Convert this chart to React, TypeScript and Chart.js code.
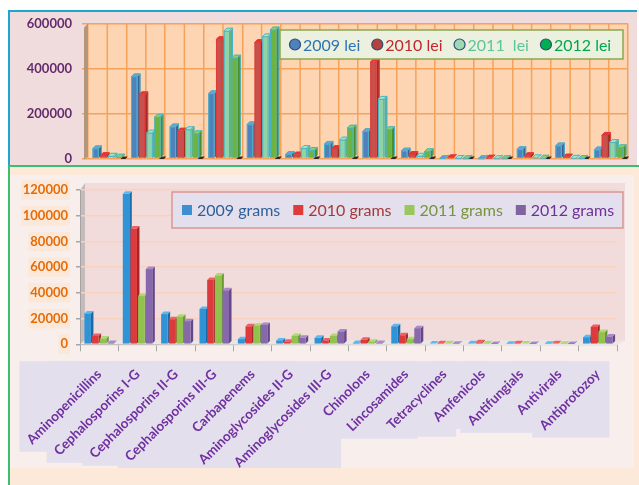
import React, { useEffect, useRef } from 'react';
import { Chart, registerables } from 'chart.js';

Chart.register(...registerables);
Chart.defaults.font.family = 'Lato, "Open Sans", sans-serif';

// ---------- data ----------
const categories = [
  'Aminopenicillins',
  'Cephalosporins I-G',
  'Cephalosporins II-G',
  'Cephalosporins III-G',
  'Carbapenems',
  'Aminoglycosides II-G',
  'Aminoglycosides III-G',
  'Chinolons',
  'Lincosamides',
  'Tetracyclines',
  'Amfenicols',
  'Antifungials',
  'Antivirals',
  'Antiprotozoy',
];

const leiSeriesNames = ['2009 lei', '2010 lei', '2011  lei', '2012 lei'];
const lei2009 = [45000, 365000, 142000, 290000, 152000, 20000, 65000, 122000, 35000, 2000, 1000, 42000, 58000, 40000];
const lei2010 = [15000, 285000, 123000, 530000, 517000, 17000, 46000, 430000, 20000, 5000, 3000, 14000, 8000, 105000];
const lei2011 = [12000, 115000, 130000, 568000, 543000, 46000, 84000, 265000, 12000, 2000, 1000, 5000, 3000, 73000];
const lei2012 = [8000, 185000, 112000, 448000, 573000, 38000, 137000, 130000, 32000, 1000, 1000, 3000, 2000, 50000];
const leiTicks = [0, 200000, 400000, 600000];

const gramSeriesNames = ['2009 grams', '2010 grams', '2011 grams', '2012 grams'];
const grams2009 = [24000, 117000, 23500, 27500, 4000, 3000, 5000, 1000, 14000, 600, 800, 500, 500, 5500];
const grams2010 = [6500, 90000, 19500, 50000, 14000, 2000, 3000, 3500, 7000, 900, 1500, 900, 800, 13500];
const grams2011 = [4500, 37500, 21500, 53500, 14500, 6500, 6500, 2000, 4000, 800, 900, 600, 500, 9500];
const grams2012 = [1000, 58500, 18000, 42000, 15000, 5000, 10000, 1000, 12500, 400, 300, 300, 200, 6000];
const gramTicks = [0, 20000, 40000, 60000, 80000, 100000, 120000];

// ---------- styles ----------
const topPalette = [
  { front: '#4f81bd', side: '#3a6394', top: '#6f9fd6', edge: '#4bb3c9', legend: '#2e74b5', marker: '#4f81bd' },
  { front: '#c9514d', side: '#9b2f2c', top: '#e8332f', edge: '#e03b3b', legend: '#c0282e', marker: '#b8403d' },
  { front: '#8fd3a6', side: '#5eb083', top: '#a9e6c0', edge: '#4bb3c9', legend: '#5fc498', marker: '#9ed9b3' },
  { front: '#6cb33f', side: '#4c8c2a', top: '#8fd063', edge: '#4bb3c9', legend: '#00a84f', marker: '#00b050' },
];
const botPalette = [
  { front: '#2f93d6', side: '#1d69a6', top: '#5cb8ee', edge: '', legend: '#2f5f98', marker: '#3d8fd0' },
  { front: '#dc3a3c', side: '#a52628', top: '#f05f5f', edge: '', legend: '#a23a3a', marker: '#de3b3b' },
  { front: '#91c24d', side: '#6b9733', top: '#afd874', edge: '', legend: '#77933c', marker: '#9bc75a' },
  { front: '#8868ac', side: '#634787', top: '#a68bc8', edge: '', legend: '#6f3098', marker: '#8064a2' },
];

// ---------- plugins ----------
const bars3d = {
  id: 'bars3d',
  afterDatasetsDraw(chart: any, _a: any, opts: any) {
    const ctx = chart.ctx;
    const d = opts.depth;
    const pal = opts.palette;
    const n = chart.data.labels.length;
    ctx.save();
    for (let j = 0; j < n; j++) {
      chart.data.datasets.forEach((_ds: any, i: number) => {
        const el = chart.getDatasetMeta(i).data[j];
        if (!el) return;
        const { x, y, base, width } = el.getProps(['x', 'y', 'base', 'width'], true);
        const l = x - width / 2;
        const r = x + width / 2;
        const p = pal[i];
        ctx.fillStyle = p.side;
        ctx.beginPath();
        ctx.moveTo(r, y);
        ctx.lineTo(r + d, y - d);
        ctx.lineTo(r + d, base - d);
        ctx.lineTo(r, base);
        ctx.closePath();
        ctx.fill();
        ctx.fillStyle = p.top;
        ctx.beginPath();
        ctx.moveTo(l, y);
        ctx.lineTo(l + d, y - d);
        ctx.lineTo(r + d, y - d);
        ctx.lineTo(r, y);
        ctx.closePath();
        ctx.fill();
        ctx.fillStyle = p.front;
        ctx.fillRect(l, y, width, base - y);
        if (p.edge) {
          ctx.strokeStyle = p.edge;
          ctx.lineWidth = 1;
          ctx.beginPath();
          ctx.moveTo(l + 0.5, base);
          ctx.lineTo(l + 0.5, y);
          ctx.lineTo(l + d, y - d + 0.5);
          ctx.lineTo(r + d - 0.5, y - d + 0.5);
          ctx.lineTo(r + d - 0.5, base - d);
          ctx.moveTo(r - 0.5, base);
          ctx.lineTo(r - 0.5, y);
          ctx.lineTo(r + d - 0.5, y - d);
          ctx.moveTo(l, y + 0.5);
          ctx.lineTo(r, y + 0.5);
          ctx.stroke();
        }
      });
    }
    ctx.restore();
  },
};

const topDecor = {
  id: 'topDecor',
  beforeDraw(chart: any) {
    const { ctx, chartArea: a } = chart;
    ctx.save();
    ctx.fillStyle = '#fdd5b2';
    ctx.fillRect(a.left, a.top, a.right - a.left, a.bottom - a.top);
    ctx.restore();
  },
  beforeDatasetsDraw(chart: any) {
    const { ctx, chartArea: a } = chart;
    const xs = chart.scales.x;
    const step = xs.getPixelForValue(1) - xs.getPixelForValue(0);
    ctx.save();
    // centre grid lines
    ctx.strokeStyle = '#f5a25a';
    ctx.lineWidth = 1.5;
    for (let j = 0; j < categories.length; j++) {
      const px = xs.getPixelForValue(j);
      ctx.beginPath();
      ctx.moveTo(px, a.top);
      ctx.lineTo(px, a.bottom);
      ctx.stroke();
    }
    // left wall
    ctx.fillStyle = '#b3977c';
    ctx.beginPath();
    ctx.moveTo(a.left - 4, a.top + 4);
    ctx.lineTo(a.left, a.top);
    ctx.lineTo(a.left, a.bottom - 2);
    ctx.lineTo(a.left - 4, a.bottom + 1);
    ctx.closePath();
    ctx.fill();
    // floor joints
    ctx.fillStyle = '#3a2a1e';
    for (let j = 1; j <= categories.length; j++) {
      const b = xs.getPixelForValue(j - 1) + step / 2;
      ctx.beginPath();
      ctx.moveTo(b - 6, a.bottom + 0.5);
      ctx.lineTo(b - 4, a.bottom - 2);
      ctx.lineTo(b + 1, a.bottom - 2);
      ctx.lineTo(b - 1, a.bottom + 0.5);
      ctx.closePath();
      ctx.fill();
    }
    ctx.restore();
  },
};

const botDecor = {
  id: 'botDecor',
  beforeDraw(chart: any) {
    const { ctx, chartArea: a } = chart;
    ctx.save();
    // back wall
    ctx.fillStyle = '#f2dcdb';
    ctx.fillRect(a.left + 5, a.top - 7, a.right - a.left + 3, a.bottom - a.top + 4);
    // side wall
    ctx.fillStyle = '#c4bcbc';
    ctx.beginPath();
    ctx.moveTo(a.left, a.top);
    ctx.lineTo(a.left + 5, a.top - 7);
    ctx.lineTo(a.left + 5, a.bottom - 4);
    ctx.lineTo(a.left, a.bottom);
    ctx.closePath();
    ctx.fill();
    // label boxes
    const xs = chart.scales.x;
    const items = xs.getLabelItems();
    ctx.fillStyle = '#e4dfec';
    for (const it of items) {
      ctx.font = it.font.string;
      const w = ctx.measureText(String(it.label)).width;
      const h = it.font.lineHeight;
      const [tx, ty] = it.options.translation;
      const rot = it.options.rotation;
      const align = it.options.textAlign;
      const bl = it.options.textBaseline;
      const x0 = align === 'right' ? -w : align === 'center' ? -w / 2 : 0;
      let yc = it.textOffset;
      if (bl === 'top') yc += h / 2;
      else if (bl === 'bottom') yc -= h / 2;
      const corners = [
        [x0, yc - h / 2],
        [x0 + w, yc - h / 2],
        [x0, yc + h / 2],
        [x0 + w, yc + h / 2],
      ].map(([cx, cy]) => [
        tx + cx * Math.cos(rot) - cy * Math.sin(rot),
        ty + cx * Math.sin(rot) + cy * Math.cos(rot),
      ]);
      const minX = Math.min(...corners.map((c) => c[0])) - 4;
      const maxX = Math.max(...corners.map((c) => c[0])) + 6;
      const minY = Math.min(...corners.map((c) => c[1])) - 5;
      const maxY = Math.max(...corners.map((c) => c[1])) + 4;
      ctx.fillRect(minX, minY, maxX - minX, maxY - minY);
    }
    ctx.restore();
  },
  beforeDatasetsDraw(chart: any) {
    const { ctx, chartArea: a } = chart;
    ctx.save();
    ctx.fillStyle = '#ebe6e6';
    ctx.beginPath();
    ctx.moveTo(a.left, a.bottom);
    ctx.lineTo(a.left + 5, a.bottom - 4);
    ctx.lineTo(a.right + 8, a.bottom - 4);
    ctx.lineTo(a.right, a.bottom + 1);
    ctx.closePath();
    ctx.fill();
    ctx.restore();
  },
};

function legendPlugin(kind: 'circle' | 'square') {
  return {
    id: 'customLegend',
    afterDraw(chart: any, _a: any, opts: any) {
      const ctx = chart.ctx;
      const box = opts.box;
      const pal = opts.palette;
      ctx.save();
      ctx.fillStyle = opts.fill;
      ctx.fillRect(box.left, box.top, box.right - box.left, box.bottom - box.top);
      ctx.strokeStyle = opts.stroke;
      ctx.lineWidth = 1.5;
      ctx.strokeRect(box.left, box.top, box.right - box.left, box.bottom - box.top);
      ctx.font = opts.font;
      ctx.textBaseline = 'middle';
      const cy = (box.top + box.bottom) / 2;
      let x = box.left + opts.startPad;
      chart.data.datasets.forEach((ds: any, i: number) => {
        const p = pal[i];
        if (kind === 'circle') {
          ctx.beginPath();
          ctx.arc(x + 6, cy, 5.5, 0, Math.PI * 2);
          ctx.fillStyle = p.marker;
          ctx.fill();
          ctx.strokeStyle = '#2d4d75';
          ctx.lineWidth = 1.2;
          ctx.stroke();
          x += 14;
        } else {
          ctx.fillStyle = p.marker;
          ctx.fillRect(x, cy - 5, 10, 10);
          x += 15;
        }
        ctx.fillStyle = p.legend;
        ctx.fillText(ds.label, x, cy + 1);
        x += ctx.measureText(ds.label).width + opts.gap;
      });
      ctx.restore();
    },
  };
}

function makeDatasets(names: string[], series: number[][]) {
  return names.map((n, i) => ({
    label: n,
    data: series[i],
    backgroundColor: 'rgba(0,0,0,0)',
    borderWidth: 0,
  }));
}

const TopChart = () => {
  const ref = useRef<HTMLCanvasElement>(null);
  useEffect(() => {
    const chart = new Chart(ref.current!, {
      type: 'bar',
      data: {
        labels: categories,
        datasets: makeDatasets(leiSeriesNames, [lei2009, lei2010, lei2011, lei2012]),
      },
      options: {
        responsive: false,
        animation: false,
        layout: { padding: { left: 0, right: 7, top: 11.5, bottom: 0 } },
        datasets: { bar: { categoryPercentage: 0.8, barPercentage: 0.82 } },
        plugins: {
          legend: { display: false },
          tooltip: { enabled: false },
          bars3d: { depth: 3, palette: topPalette },
          customLegend: {
            box: { left: 270, top: 18, right: 613, bottom: 47 },
            palette: topPalette,
            fill: '#ebf1de',
            stroke: '#8ea64f',
            font: '16px Lato',
            startPad: 9,
            gap: 11,
          },
        } as any,
        scales: {
          x: {
            afterFit: (s: any) => {
              s.height = 5.5;
              s.paddingLeft = 0;
              s.paddingRight = 0;
            },
            ticks: { display: false },
            grid: { offset: true, color: '#f5a25a', lineWidth: 1.5, drawTicks: false },
            border: { display: false },
          },
          y: {
            min: 0,
            max: 600000,
            afterBuildTicks: (s: any) => {
              s.ticks = leiTicks.map((v) => ({ value: v }));
            },
            afterFit: (s: any) => {
              s.width = 78;
              s.paddingTop = 0;
              s.paddingBottom = 0;
            },
            ticks: {
              color: '#632b6c',
              font: { size: 13, weight: 'bold' },
              padding: 10,
              callback: (v: any) => String(v),
            },
            grid: { color: '#f5a25a', lineWidth: 1.5, tickLength: 6 },
            border: { display: false },
          },
        },
      },
      plugins: [topDecor, bars3d, legendPlugin('circle')],
    });
    return () => chart.destroy();
  }, []);
  return (
    <canvas
      ref={ref}
      width={625}
      height={152}
      style={{ position: 'absolute', left: 10, top: 12, width: 625, height: 152 }}
    />
  );
};

const BottomChart = () => {
  const ref = useRef<HTMLCanvasElement>(null);
  useEffect(() => {
    const chart = new Chart(ref.current!, {
      type: 'bar',
      data: {
        labels: categories,
        datasets: makeDatasets(gramSeriesNames, [grams2009, grams2010, grams2011, grams2012]),
      },
      options: {
        responsive: false,
        animation: false,
        layout: { padding: { left: 0, right: 15, top: 15, bottom: 0 } },
        datasets: { bar: { categoryPercentage: 0.8, barPercentage: 0.85 } },
        plugins: {
          legend: { display: false },
          tooltip: { enabled: false },
          bars3d: { depth: 2.5, palette: botPalette },
          customLegend: {
            box: { left: 162, top: 17, right: 613, bottom: 53 },
            palette: botPalette,
            fill: '#e4dfec',
            stroke: '#d99694',
            font: '16px Lato',
            startPad: 10,
            gap: 13,
          },
        } as any,
        scales: {
          x: {
            afterFit: (s: any) => {
              s.height = 123.7;
              s.paddingLeft = 0;
              s.paddingRight = 0;
            },
            ticks: {
              autoSkip: false,
              minRotation: 45,
              maxRotation: 45,
              color: '#7030a0',
              font: { size: 13.5, weight: 'bold' },
              padding: 15,
            },
            grid: { offset: true, drawOnChartArea: false, color: '#a6a6a6', tickLength: 7 },
            border: { display: true, color: '#b5b0b0' },
          },
          y: {
            min: 0,
            max: 120000,
            afterBuildTicks: (s: any) => {
              s.ticks = gramTicks.map((v) => ({ value: v }));
            },
            afterFit: (s: any) => {
              s.width = 70;
              s.paddingTop = 0;
              s.paddingBottom = 0;
            },
            ticks: {
              color: '#e46c0a',
              font: { size: 13, weight: 'bold' },
              padding: 8,
              showLabelBackdrop: true,
              backdropColor: '#fce8d8',
              backdropPadding: { x: 2, y: 2 },
              callback: (v: any) => String(v),
            } as any,
            grid: { color: '#f9d2bf', lineWidth: 1.5, tickLength: 4, tickColor: '#a6a6a6' } as any,
            border: { display: true, color: '#a8a2a2' },
          },
        },
      },
      plugins: [botDecor, bars3d, legendPlugin('square')],
    });
    return () => chart.destroy();
  }, []);
  return (
    <canvas
      ref={ref}
      width={622}
      height={293}
      style={{ position: 'absolute', left: 10, top: 175, width: 622, height: 293 }}
    />
  );
};

export default function App() {
  return (
    <div style={{ position: 'absolute', left: 0, top: 0, width: 639, height: 485, background: '#ffffff', overflow: 'hidden' }}>
      {/* top panel */}
      <div style={{ position: 'absolute', left: 8, top: 10, width: 629, height: 155, background: '#f0dcdc', borderTop: '2px solid #1ea6cc', borderLeft: '2px solid #1ea6cc', boxSizing: 'border-box' }} />
      {/* bottom panel */}
      <div style={{ position: 'absolute', left: 8, top: 165, width: 631, height: 320, background: '#fde9d9', borderLeft: '2px solid #3dbd6e', borderTop: '2px solid #3dbd6e', boxSizing: 'border-box' }} />
      <div style={{ position: 'absolute', left: 10, top: 175, width: 624, height: 293, background: '#f8efed' }} />
      <TopChart />
      <BottomChart />
    </div>
  );
}
